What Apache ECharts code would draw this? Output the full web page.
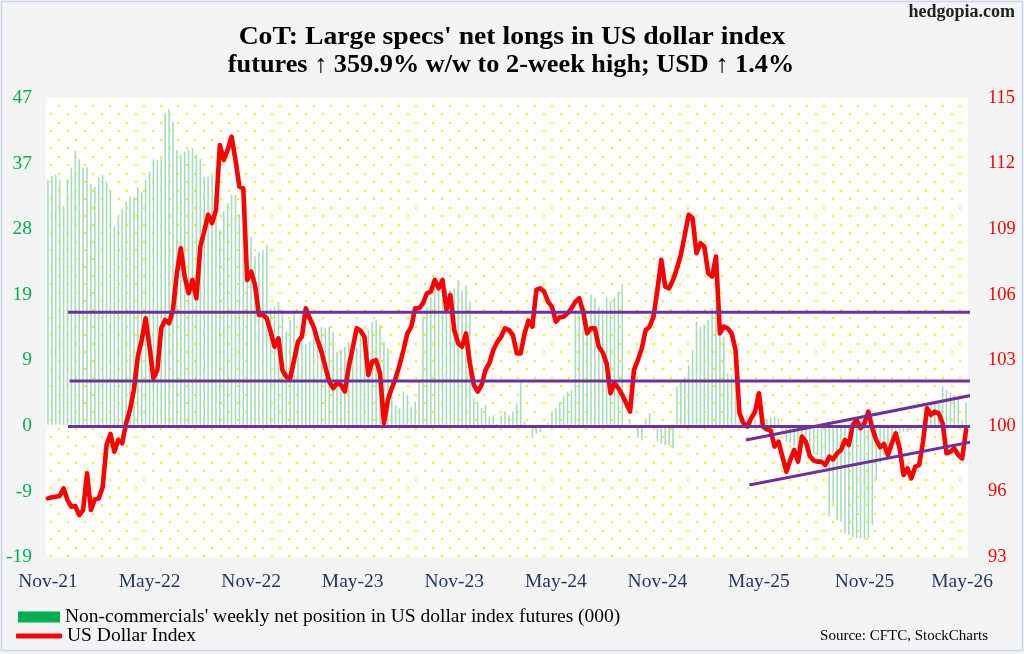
<!DOCTYPE html>
<html><head><meta charset="utf-8">
<script src="https://cdn.jsdelivr.net/npm/echarts@6/dist/echarts.min.js"></script>
<style>html,body{margin:0;padding:0;background:#f4f4f4}#c{width:1024px;height:654px}</style>
</head><body><div id="c"></div>
<script>
// ---- data ----
const startDate = '2021-11-02'; // first weekly observation (Tuesday)
const netPositions = [ // non-commercials' net position (000), weekly
35.2,35.8,36.0,35.2,31.5,35.3,37.0,39.4,38.2,37.0,
37.0,34.7,34.2,35.6,35.9,35.0,33.8,28.6,29.9,31.1,
32.1,32.8,32.7,34.2,33.4,35.2,36.4,38.2,38.1,38.3,
44.8,45.4,43.5,39.5,38.9,39.3,39.6,39.8,38.9,38.2,
35.7,35.7,35.9,32.6,28.0,30.7,31.9,33.1,33.1,30.3,
29.0,26.1,27.1,24.2,24.9,25.1,25.9,16.8,17.0,17.7,
16.5,13.4,15.1,16.5,12.2,12.2,11.7,12.0,13.2,12.7,
14.1,13.9,14.1,13.4,10.5,10.8,11.2,11.5,11.2,11.2,
13.2,12.2,13.6,14.8,15.1,14.4,12.0,11.0,4.3,2.9,
2.4,4.8,4.3,2.6,3.3,6.2,15.6,16.8,18.4,19.9,
19.6,18.9,19.6,19.4,19.6,20.8,19.2,20.1,17.7,3.8,
3.3,2.4,2.9,1.2,1.4,0.2,1.4,1.9,1.4,1.9,
3.1,6.2,0.5,-0.5,-1.9,-1.2,-1.0,-0.3,0.3,1.7,
2.4,3.3,4.1,4.8,5.0,16.5,17.2,16.5,15.1,18.7,
18.2,17.0,16.0,18.4,17.7,18.4,19.2,20.3,-0.3,0.7,
-0.3,-1.9,-2.2,0.7,1.7,-0.3,-2.4,-2.7,-2.9,-2.9,
-3.4,5.5,6.2,6.9,8.6,10.8,14.8,14.1,14.4,15.1,
16.8,17.0,16.0,12.7,7.4,7.2,6.9,1.7,1.2,1.4,
0.7,0.9,0.2,0.5,0.8,1.0,1.2,0.9,-1.0,-2.4,
-2.6,-3.0,-3.4,-3.6,-3.8,-4.0,-4.2,-4.3,-4.8,-6.0,
-13.2,-11.3,-13.7,-13.9,-15.6,-15.8,-16.1,-16.3,-16.3,-16.5,
-16.3,-14.4,-7.9,-5.5,-4.3,-3.9,-3.6,-2.4,-1.2,-1.0,
-1.0,-0.7,-0.7,-0.5,-0.3,0.5,3.3,3.1,3.1,5.5,
5.0,4.6,4.3,4.0,0.7,3.2
];
const dollarIndex = [ // US Dollar Index, weekly
95.81,95.86,95.89,95.92,96.29,95.73,95.41,95.44,95.01,95.25,
97.01,95.25,95.76,95.81,96.34,98.37,98.90,98.05,98.61,98.45,
99.41,100.05,101.01,102.60,103.40,104.44,103.08,101.57,101.96,103.96,
104.36,104.20,104.84,106.60,107.80,106.44,105.64,106.28,105.40,107.88,
108.60,109.40,109.00,109.63,112.75,112.03,112.51,113.15,112.03,110.75,
110.67,106.28,106.68,106.04,104.60,104.60,104.44,103.80,103.08,103.48,
101.96,101.64,101.57,102.44,103.32,103.56,104.92,104.44,104.04,103.40,
102.84,102.12,101.41,101.09,101.33,101.25,100.93,102.12,103.00,103.96,
103.85,103.56,101.72,102.36,102.44,101.80,99.41,100.53,101.09,101.57,
102.20,102.92,103.72,104.04,104.92,104.92,105.16,105.64,105.72,106.28,
105.88,106.28,104.84,105.56,103.88,103.24,103.08,103.72,102.28,101.25,
100.93,101.25,101.96,102.30,102.92,103.30,103.56,103.96,103.88,103.64,
102.76,102.76,103.72,104.33,104.04,105.80,105.88,105.72,105.24,105.00,
104.28,104.49,104.52,104.68,104.92,105.24,105.40,104.76,103.72,103.96,
103.96,103.08,102.80,102.28,100.85,101.33,101.09,100.77,100.37,99.97,
101.96,102.44,103.00,103.88,104.04,104.52,105.80,107.24,105.96,105.88,
106.28,106.84,107.48,108.44,109.40,109.24,107.56,108.04,107.88,106.60,
106.44,107.40,103.72,104.04,103.96,103.72,102.92,99.90,99.41,99.25,
99.65,99.97,100.85,99.25,99.12,99.06,98.29,98.53,97.81,97.09,
97.65,98.13,97.57,98.77,98.53,97.84,97.62,97.57,97.57,97.41,
97.81,97.68,97.97,98.13,98.61,98.37,99.33,99.57,99.17,99.41,
99.97,99.17,98.61,98.26,98.42,97.89,98.45,98.93,98.21,96.93,
97.25,96.77,97.33,97.41,98.53,100.13,99.81,99.97,99.89,99.41,
97.97,98.05,98.21,97.89,97.72,99.09
];
const leftTickLabels = ['-19','-9','0','9','19','28','37','47'];
const rightTickLabels = ['93','96','100','103','106','109','112','115'];
const leftRange = [-19, 47];
const rightRange = [93, 115];
const MONTHS = ['Jan','Feb','Mar','Apr','May','Jun','Jul','Aug','Sep','Oct','Nov','Dec'];
const labelMonths = [4, 10]; // May, Nov
const titleLines = ["CoT: Large specs' net longs in US dollar index",
                    "futures \u2191 359.9% w/w to 2-week high; USD \u2191 1.4%"];
// annotation lines, in data units (week index, dollar index)
const levelLines = [104.73, 101.44, 99.25];
const levelSpan = [5.13, 236.2];
const trendUpper = [[178.67, 98.61], [238.06, 100.81]];
const trendLower = [[179.52, 96.45], [239.16, 98.61]];

const barName = "Non-commercials' weekly net position in US dollar index futures (000)";
const lineName = 'US Dollar Index';

// ---- derived ----
const DAY = 864e5;
const t0 = Date.parse(startDate + 'T00:00:00Z');
const categories = dollarIndex.map((_, i) => new Date(t0 + i * 7 * DAY).toISOString().slice(0, 10));
const xLabels = categories.map(c => {
  const t = Date.parse(c + 'T00:00:00Z');
  const a = new Date(t - 3.5 * DAY), b = new Date(t + 3.5 * DAY);
  if (a.getUTCMonth() !== b.getUTCMonth() && labelMonths.includes(b.getUTCMonth()))
    return MONTHS[b.getUTCMonth()] + '-' + String(b.getUTCFullYear()).slice(2);
  return null;
});
function ticks(range, labels) {
  const step = (range[1] - range[0]) / (labels.length - 1);
  return labels.map((_, k) => range[0] + k * step);
}
function tickFmt(range, labels) {
  const step = (range[1] - range[0]) / (labels.length - 1);
  return v => labels[Math.round((v - range[0]) / step)] || '';
}

// dotted plot background
const pc = document.createElement('canvas');
pc.width = 17; pc.height = 17;
const px = pc.getContext('2d');
px.fillStyle = '#ffffff'; px.fillRect(0, 0, 17, 17);
px.fillStyle = '#f2f200';
px.fillRect(7, 3, 2, 2);
px.fillRect(-1, 11, 2, 2);
px.fillRect(16, 11, 2, 2);

const FONT = 'Liberation Serif';
const chart = echarts.init(document.getElementById('c'), null, {renderer: 'canvas'});
const purple = {color: '#7030a0', width: 3};
function annot(data) {
  return {type: 'line', xAxisIndex: 1, yAxisIndex: 1, data: data, symbol: 'none', clip: false,
    silent: true, z: 5, lineStyle: purple, animation: false, tooltip: {show: false}};
}
chart.setOption({
  animation: false,
  backgroundColor: '#f4f4f4',
  textStyle: {fontFamily: FONT},
  legend: [
    {data: [{name: barName, icon: 'rect'}], left: 18, top: 607, padding: 0, itemWidth: 42, itemHeight: 11,
     itemStyle: {color: '#00b050', opacity: 1}, selectedMode: false,
     textStyle: {fontFamily: FONT, fontSize: 19.5, color: '#000'}},
    {data: [{name: lineName, icon: 'roundRect'}], left: 16, top: 626, padding: 0, itemWidth: 46, itemHeight: 5,
     itemStyle: {color: '#ff0000'}, selectedMode: false,
     textStyle: {fontFamily: FONT, fontSize: 19.5, color: '#000'}}
  ],
  grid: {left: 46, right: 56, top: 98, bottom: 97, show: true, borderWidth: 0,
    backgroundColor: {image: pc, repeat: 'repeat'}, outerBoundsMode: 'none', containLabel: false},
  xAxis: [
    {type: 'category', data: categories, boundaryGap: true,
     axisLine: {show: false}, axisTick: {show: false}, splitLine: {show: false},
     axisLabel: {interval: (i) => xLabels[i] != null, formatter: (v, i) => xLabels[i] || '',
       color: '#1f3864', fontFamily: FONT, fontSize: 19.5, margin: 15}},
    {type: 'value', min: -0.5, max: categories.length - 0.5, show: false}
  ],
  yAxis: [
    {type: 'value', position: 'left', min: leftRange[0], max: leftRange[1],
     axisLine: {show: false}, axisTick: {show: false}, splitLine: {show: false},
     axisLabel: {customValues: ticks(leftRange, leftTickLabels), formatter: tickFmt(leftRange, leftTickLabels),
       color: '#00b050', fontFamily: FONT, fontSize: 19.5, margin: 14}},
    {type: 'value', position: 'right', min: rightRange[0], max: rightRange[1],
     axisLine: {show: false}, axisTick: {show: false}, splitLine: {show: false},
     axisLabel: {customValues: ticks(rightRange, rightTickLabels), formatter: tickFmt(rightRange, rightTickLabels),
       color: '#ff0000', fontFamily: FONT, fontSize: 18.5, margin: 20}}
  ],
  series: [
    {name: barName, type: 'bar', data: netPositions, xAxisIndex: 0, yAxisIndex: 0,
     barWidth: 1.6, itemStyle: {color: '#a6dcbb'}, z: 2},
    {name: lineName, type: 'line', data: dollarIndex, xAxisIndex: 0, yAxisIndex: 1,
     symbol: 'none', z: 3, lineStyle: {color: '#ff0000', width: 4.6, join: 'round', cap: 'round'},
     itemStyle: {color: '#ff0000'}},
    annot([[levelSpan[0], levelLines[0]], [levelSpan[1] - 0.2, levelLines[0]]]),
    annot([[levelSpan[0] + 0.4, levelLines[1]], [levelSpan[1], levelLines[1]]]),
    annot([[levelSpan[0], levelLines[2]], [levelSpan[1], levelLines[2]]]),
    annot(trendUpper),
    annot(trendLower)
  ],
  graphic: [
    {type: 'rect', shape: {x: 1.5, y: 1.5, width: 1021, height: 649}, silent: true,
     style: {fill: 'none', stroke: '#c5d8ee', lineWidth: 1.5}, z: 100},
    {type: 'text', x: 512, y: 37.5, scaleX: 1.085, silent: true,
     style: {text: titleLines[0], font: 'bold 25.5px "Liberation Serif"', fill: '#000',
       textAlign: 'center', textVerticalAlign: 'middle', verticalAlign: 'middle', align: 'center'}},
    {type: 'text', x: 511, y: 65.8, scaleX: 1.03, silent: true,
     style: {text: titleLines[1], font: 'bold 25.5px "Liberation Serif"', fill: '#000',
       textAlign: 'center', textVerticalAlign: 'middle', verticalAlign: 'middle', align: 'center'}},
    {type: 'text', right: 9, top: 3, silent: true,
     style: {text: 'hedgopia.com', font: 'bold 18px "Liberation Serif"', fill: '#222'}},
    {type: 'text', right: 36, top: 629, silent: true,
     style: {text: 'Source: CFTC, StockCharts', font: '15px "Liberation Serif"', fill: '#000'}}
  ]
});
</script></body></html>
